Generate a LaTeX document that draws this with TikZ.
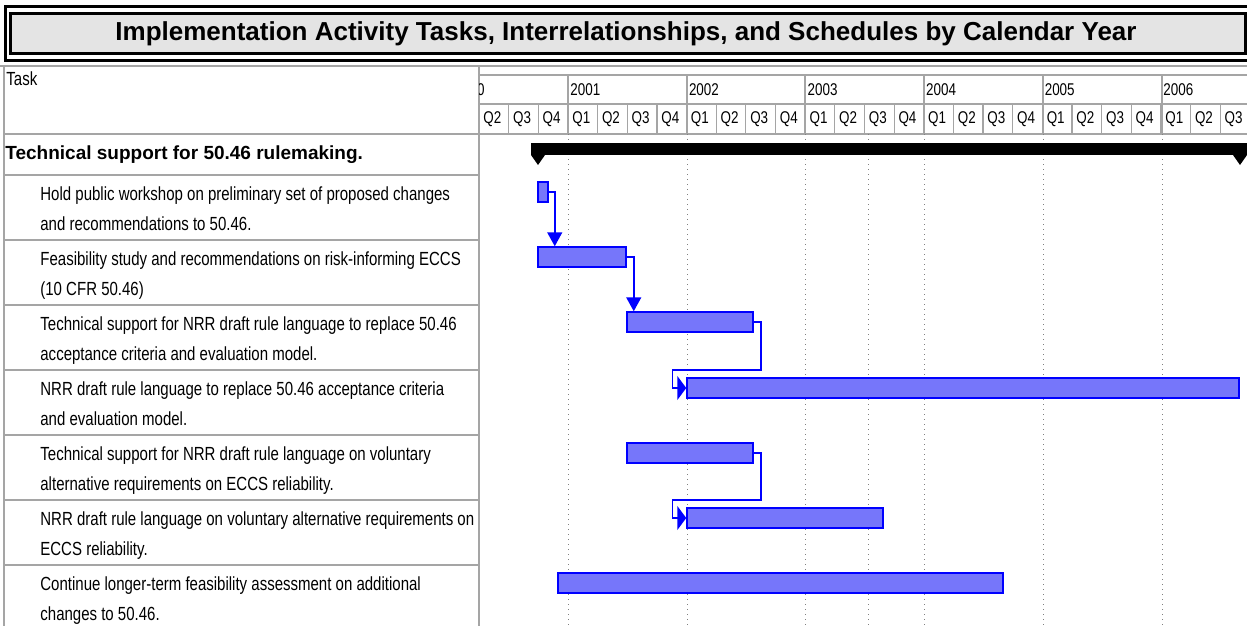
\documentclass[tikz,border=0pt]{standalone}
\usepackage{fontspec}
\setmainfont{Liberation Sans}
\newfontfamily\narrowfont[FakeStretch=0.79]{Liberation Sans}
\usepackage{tikz}
\usetikzlibrary{positioning,fit,arrows.meta}
\definecolor{barfill}{RGB}{118,118,250}
\definecolor{titlegray}{RGB}{228,228,228}
\definecolor{rulegray}{RGB}{165,165,165}
\tikzset{
  taskbar/.style={draw=blue, line width=0.75pt, fill=barfill, inner sep=0pt},
  link/.style={draw=blue, line width=0.75pt, -{Triangle[width=7.5pt,length=7pt]}},
  sidelink/.style={draw=blue, line width=0.75pt, -{Triangle[width=12pt,length=4.5pt]}},
  tasktext/.style={anchor=north west, inner sep=0pt, align=left, font=\narrowfont\fontsize{9.5}{15}\selectfont},
  headtext/.style={anchor=west, inner sep=0pt, font=\narrowfont\fontsize{8.5}{10}\selectfont},
  rule/.style={draw=rulegray, line width=0.6pt},
  gridline/.style={draw=gray, line width=0.5pt, dotted}
}

\begin{document}
\begin{tikzpicture}[x=0.5pt, y=-0.5pt]
        \useasboundingbox (0,0) rectangle (1247,626);
        % title frame
        \draw[line width=1.5pt] (5.5,7) rectangle (1250,60.5);
        \draw[line width=1.5pt, fill=titlegray] (10.5,13.5) rectangle (1245.5,53.5);
        \node[font=\bfseries\fontsize{13}{15}\selectfont] (title) at (626,34)
            {Implementation Activity Tasks, Interrelationships, and Schedules by Calendar Year};
        % table rules
        \draw[rule] (0,66) -- (1247,66);
        \draw[rule] (4,66) -- (4,626);
        \draw[rule] (479,66) -- (479,626);
        \draw[rule] (479,75) -- (1247,75);
        \draw[rule] (479,104) -- (1247,104);
        \draw[rule] (4,134) -- (1247,134);
        \foreach \y in {175,240,305,370,435,500,565}
            \draw[rule] (4,\y) -- (479,\y);
        \foreach \x in {568,687,805,924,1043,1162}
            \draw[rule] (\x,75) -- (\x,134);
        \foreach \i in {1,...,25}
            \draw[rule] ({479+\i*29.65},104) -- ({479+\i*29.65},134);
        % timescale labels
        \node[tasktext] (head) at (6,71) {Task};
        \begin{scope}
            \clip (479,75) rectangle (568,104);
            \node[headtext, anchor=east] (y2000) at (485,90) {2000};
        \end{scope}
        \foreach \yr [count=\k] in {2001,...,2006}
            \node[headtext] (y\yr) at ({568+(\k-1)*118.6+2},90) {\yr};
        \foreach \i [evaluate=\i as \qn using {int(mod(\i+1,4)+1)}] in {0,...,25}
            \node[headtext] (q\i) at ({479+\i*29.65+4},119) {Q\qn};
        % gridlines
        \foreach \x in {568,687,805,868,924,1043,1162}
            \draw[gridline] (\x,134) -- (\x,626);
        % task names
        \node[anchor=west, inner sep=0pt, font=\bfseries\fontsize{9.5}{12}\selectfont] (t0) at (5,155)
            {Technical support for 50.46 rulemaking.};
        \node[tasktext] (t1) at (40,186) {Hold public workshop on preliminary set of proposed changes\\and recommendations to 50.46.};
        \node[tasktext] (t2) at (40,251) {Feasibility study and recommendations on risk-informing ECCS\\(10 CFR 50.46)};
        \node[tasktext] (t3) at (40,316) {Technical support for NRR draft rule language to replace 50.46\\acceptance criteria and evaluation model.};
        \node[tasktext] (t4) at (40,381) {NRR draft rule language to replace 50.46 acceptance criteria\\and evaluation model.};
        \node[tasktext] (t5) at (40,446) {Technical support for NRR draft rule language on voluntary\\alternative requirements on ECCS reliability.};
        \node[tasktext] (t6) at (40,511) {NRR draft rule language on voluntary alternative requirements on\\ECCS reliability.};
        \node[tasktext] (t7) at (40,576) {Continue longer-term feasibility assessment on additional\\changes to 50.46.};
        % summary bar
        \fill (531,143) rectangle (1247,155);
        \fill (531,155) -- (545,155) -- (538,165) -- cycle;
        \fill (1233,155) -- (1247,155) -- (1240,165) -- cycle;
        % task bars
        \node[taskbar, fit={(538,182) (548,202)}] (b1) {};
        \node[taskbar, fit={(538,247) (626,267)}] (b2) {};
        \node[taskbar, fit={(627,312) (753,332)}] (b3) {};
        \node[taskbar, fit={(687,378) (1239,398)}] (b4) {};
        \node[taskbar, fit={(627,443) (753,463)}] (b5) {};
        \node[taskbar, fit={(687,508) (883,528)}] (b6) {};
        \node[taskbar, fit={(558,573) (1003,593)}] (b7) {};
        % links
        \draw[link] (b1.east) -- ++(6,0) coordinate (k1) -- (k1 |- b2.north);
        \draw[link] (b2.east) -- ++(7,0) coordinate (k2) -- (k2 |- b3.north);
        \draw[sidelink] (b3.east) -- ++(7,0) coordinate (k3) -- (k3 |- 0,370) -| ([xshift=-7pt]b4.west) -- (b4.west);
        \draw[sidelink] (b5.east) -- ++(7,0) coordinate (k5) -- (k5 |- 0,500) -| ([xshift=-7pt]b6.west) -- (b6.west);
    \end{tikzpicture}
\end{document}
